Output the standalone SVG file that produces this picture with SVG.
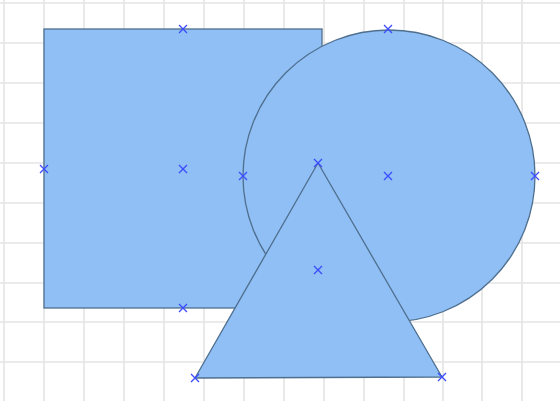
<svg xmlns="http://www.w3.org/2000/svg" width="560" height="401" viewBox="0 0 560 401">
<defs>
<style>
.grid line{stroke:#e4e4e4;stroke-width:1.6}
.shape{fill:#8fbff4;stroke:#4f6f8f;stroke-width:1.3}
.mk{stroke:#3d4bff;stroke-width:1.3;fill:none}
</style>
<path id="x" class="mk" d="M-4,-4L4,4M-4,4L4,-4"/>
</defs>
<rect width="560" height="401" fill="#ffffff"/>
<g class="grid">
<line x1="4" y1="0" x2="4" y2="401"/><line x1="44" y1="0" x2="44" y2="401"/><line x1="84" y1="0" x2="84" y2="401"/><line x1="124" y1="0" x2="124" y2="401"/><line x1="164" y1="0" x2="164" y2="401"/><line x1="204" y1="0" x2="204" y2="401"/><line x1="244" y1="0" x2="244" y2="401"/><line x1="284" y1="0" x2="284" y2="401"/><line x1="324" y1="0" x2="324" y2="401"/><line x1="364" y1="0" x2="364" y2="401"/><line x1="404" y1="0" x2="404" y2="401"/><line x1="443" y1="0" x2="443" y2="401"/><line x1="482" y1="0" x2="482" y2="401"/><line x1="522" y1="0" x2="522" y2="401"/>
<line x1="0" y1="3" x2="560" y2="3"/><line x1="0" y1="43" x2="560" y2="43"/><line x1="0" y1="83" x2="560" y2="83"/><line x1="0" y1="123" x2="560" y2="123"/><line x1="0" y1="163" x2="560" y2="163"/><line x1="0" y1="203" x2="560" y2="203"/><line x1="0" y1="243" x2="560" y2="243"/><line x1="0" y1="283" x2="560" y2="283"/><line x1="0" y1="322" x2="560" y2="322"/><line x1="0" y1="362" x2="560" y2="362"/>
</g>
<g id="square">
<rect class="shape" x="44" y="29" width="278" height="279"/>
</g>
<g id="circle">
<circle class="shape" cx="389" cy="176" r="146"/>
</g>
<g id="triangle">
<polygon class="shape" points="318,163 195,378 442,377"/>
</g>
<g id="markers">
<use href="#x" x="183" y="29"/><use href="#x" x="44" y="169"/><use href="#x" x="183" y="169"/><use href="#x" x="183" y="308"/>
<use href="#x" x="388" y="29"/><use href="#x" x="243" y="176"/><use href="#x" x="388" y="176"/><use href="#x" x="535" y="176"/>
<use href="#x" x="318" y="163"/><use href="#x" x="318" y="270"/><use href="#x" x="195" y="378"/><use href="#x" x="442" y="377"/>
</g>
</svg>
